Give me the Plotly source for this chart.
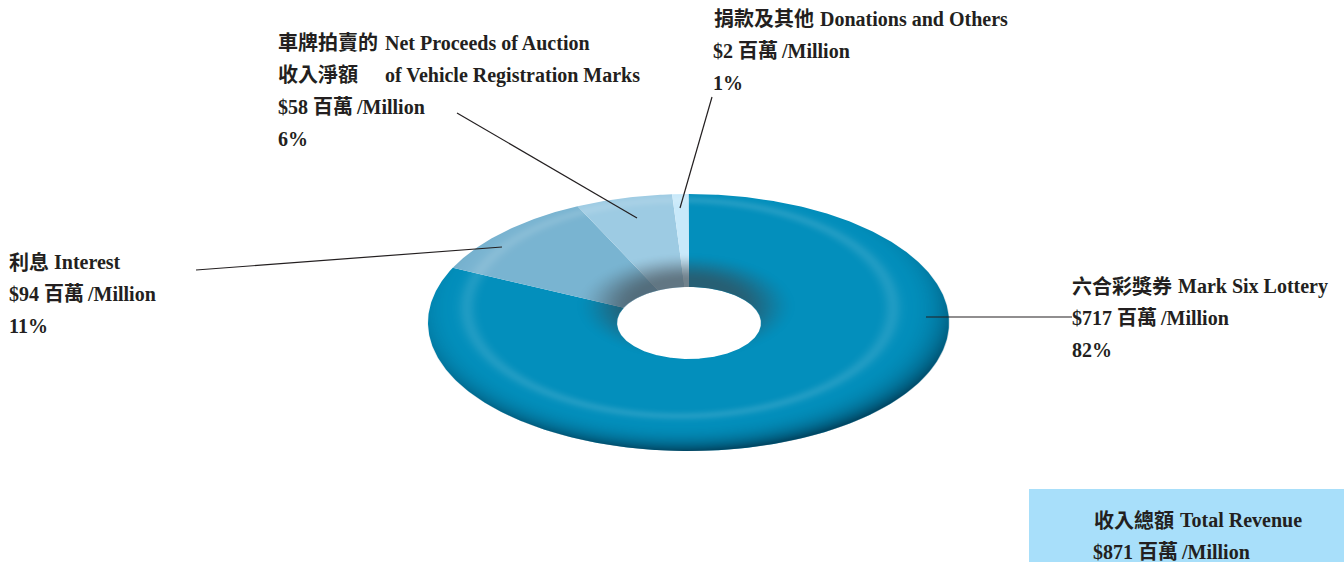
import base64
import struct
import zlib
import numpy as np
import plotly.graph_objects as go

# ---------- data ----------
categories = ["Mark Six Lottery", "Interest", "Net Proceeds of Auction of Vehicle Registration Marks", "Donations and Others"]
revenue_million = [717, 94, 58, 2]
share_percent = [82, 11, 6, 1]
total_million = 871
slice_colors = ["#038fbc", "#79b4d1", "#9dcbe3", "#c8e9fa"]

# ---------- text lines: text, x, y ----------
label_lines = [
    ("捐款及其他", 714, 19),
    ("Donations and Others", 820, 19),
    ("$2 百萬\u2009/Million", 713, 51),
    ("1%", 713, 83),
    ("車牌拍賣的", 278, 43),
    ("Net Proceeds of Auction", 385, 43),
    ("收入淨額", 278, 75),
    ("of Vehicle Registration Marks", 385, 75),
    ("$58 百萬\u2009/Million", 278, 107),
    ("6%", 278, 139),
    ("利息", 9, 262),
    ("Interest", 54, 262),
    ("$94 百萬\u2009/Million", 9, 294),
    ("11%", 9, 326),
    ("六合彩獎券", 1072, 286),
    ("Mark Six Lottery", 1178, 286),
    ("$717 百萬\u2009/Million", 1072, 318),
    ("82%", 1072, 350),
    ("收入總額", 1094, 520),
    ("Total Revenue", 1180, 520),
    ("$871 百萬\u2009/Million", 1093, 552),
]
leaders = [
    (1072, 317, 926, 317),
    (457, 113, 637, 218),
    (712, 97, 680, 208),
    (196, 270, 502, 247),
]

# ---------- geometry ----------
CX, CY, RX, RY = 688.5, 322.5, 260.5, 128.5
HX, HY, HRX, HRY = 689.0, 323.0, 72.0, 36.0


def wedge(start_deg, end_deg):
    n = max(4, int((end_deg - start_deg) * 2))
    th = np.radians(np.linspace(start_deg, end_deg, n))
    xo = CX + RX * np.sin(th)
    yo = CY - RY * np.cos(th)
    xi = HX + HRX * np.sin(th[::-1])
    yi = HY - HRY * np.cos(th[::-1])
    return np.r_[xo, xi, xo[0]], np.r_[yo, yi, yo[0]]


fig = go.Figure()
angle = 0.0
total_share = sum(share_percent)
for name, share, color in zip(categories, share_percent, slice_colors):
    sweep = 360.0 * share / total_share
    xs, ys = wedge(angle, angle + sweep)
    fig.add_trace(go.Scatter(x=xs, y=ys, mode="lines", fill="toself", fillcolor=color,
                             line=dict(width=0, color=color), name=name, hoverinfo="skip",
                             showlegend=False))
    angle += sweep

# ---------- bevel shading overlay (transparent RGBA, on top of slices) ----------
x0, y0 = 420, 186
w, h = 540, 274
px, py = np.meshgrid(np.arange(w) + x0 + 0.5, np.arange(h) + y0 + 0.5)

outer = np.hypot((px - CX) / RX, (py - CY) / RY)
inner = np.hypot((px - HX) / HRX, (py - HY) / HRY)
cover = np.clip((1 - outer) * RY + 0.5, 0, 1) * np.clip((inner - 1) * HRY + 0.5, 0, 1)

q = np.hypot((px - 680) / 213.0, (py - 308) / 108.0)
highlight = 0.11 * np.exp(-(((q - 1.0) / 0.04) ** 2))
dark = 0.68 * np.clip((q - 1.04) / 0.28, 0, 1) ** 2.6

s = np.hypot((px - 686) / 74.0, (py - 306) / 36.0)
t = np.clip((1.5 - s) / 0.8, 0, 1)
shadow = 0.62 * t * t * (3 - 2 * t)

alpha = np.zeros((h, w))
col = np.zeros((h, w, 3))
for c, a in [((255, 255, 255), highlight), ((0, 40, 62), dark), ((60, 66, 72), shadow)]:
    new_alpha = a + alpha * (1 - a)
    safe = np.where(new_alpha > 0, new_alpha, 1)
    for i in range(3):
        col[..., i] = (c[i] * a + col[..., i] * alpha * (1 - a)) / safe
    alpha = new_alpha
rgba = np.dstack([col, alpha * cover * 255]).round().astype(np.uint8)


def png_uri(arr):
    def chunk(tag, data):
        return struct.pack(">I", len(data)) + tag + data + struct.pack(">I", zlib.crc32(tag + data))
    raw = b"".join(b"\x00" + row.tobytes() for row in arr)
    blob = (b"\x89PNG\r\n\x1a\n"
            + chunk(b"IHDR", struct.pack(">IIBBBBB", arr.shape[1], arr.shape[0], 8, 6, 0, 0, 0))
            + chunk(b"IDAT", zlib.compress(raw, 9)) + chunk(b"IEND", b""))
    return "data:image/png;base64," + base64.b64encode(blob).decode()


overlay = dict(source=png_uri(rgba), xref="x", yref="y", x=x0, y=y0, sizex=w, sizey=h,
               xanchor="left", yanchor="top", sizing="stretch", layer="above")

# ---------- total box, leaders ----------
shapes = [dict(type="rect", x0=1029, x1=1344, y0=489, y1=562, fillcolor="#a8dffa",
               line=dict(width=0), layer="below")]
for xa, ya, xb, yb in leaders:
    shapes.append(dict(type="line", x0=xa, y0=ya, x1=xb, y1=yb, line=dict(color="#231f20", width=1.2)))

annotations = [
    dict(x=x - 2 if t[0] in "捐$1車收6利六8" else x - 2, y=y, xref="x", yref="y", text=t, showarrow=False,
         xanchor="left", yanchor="middle",
         font=dict(family="Liberation Serif, Noto Sans CJK TC", size=20, color="#231f20", weight="bold"))
    for t, x, y in label_lines
]

fig.update_layout(
    width=1344, height=562, margin=dict(l=0, r=0, t=0, b=0),
    paper_bgcolor="white", plot_bgcolor="white", showlegend=False,
    xaxis=dict(range=[0, 1344], visible=False, constrain="domain"),
    yaxis=dict(range=[562, 0], visible=False),
    shapes=shapes, annotations=annotations, images=[overlay],
)
fig.write_html("out.html", config={"displayModeBar": False},
               post_script="document.body.style.margin='0';document.body.style.overflow='hidden';")
